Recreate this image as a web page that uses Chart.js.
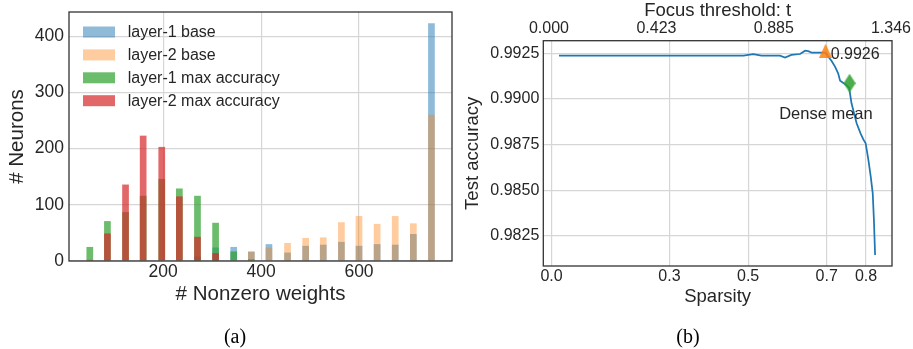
<!DOCTYPE html>
<html><head><meta charset="utf-8">
<script src="https://cdn.jsdelivr.net/npm/chart.js@4"></script>
<style>
html,body{margin:0;padding:0;background:#fff;width:913px;height:349px;overflow:hidden;}
#wa{position:absolute;left:0;top:0;width:460px;height:349px;}
#wb{position:absolute;left:460px;top:0;width:453px;height:349px;}
.cap{position:absolute;top:324px;line-height:24px;font-family:"Liberation Serif",serif;font-size:20px;color:#000;transform:translateX(-50%);}
</style></head><body>
<div id="wa"><canvas id="ca" width="460" height="349"></canvas></div>
<div id="wb"><canvas id="cb" width="453" height="349"></canvas></div>
<div class="cap" style="left:235px">(a)</div>
<div class="cap" style="left:688px">(b)</div>
<script>
// ---------- data: panel (a) ----------
const binCenters = [50, 86, 123, 159, 197, 233, 270, 307, 344, 380, 416, 454, 491, 527, 564, 600, 637, 674, 711, 748];
const layer1Base = [0, 0, 0, 0, 0, 0, 8, 24, 25, 17, 30, 15, 27, 29, 34, 27, 30, 29, 48, 423];
const layer2Base = [0, 0, 0, 0, 0, 0, 0, 0, 0, 16, 24, 32, 41, 42, 69, 80, 66, 80, 67, 260];
const layer1Max  = [25, 71, 87, 116, 146, 129, 116, 68, 17, 3, 0, 0, 0, 0, 0, 0, 0, 0, 0, 0];
const layer2Max  = [2, 49, 136, 223, 203, 115, 43, 14, 0, 0, 0, 0, 0, 0, 0, 0, 0, 0, 0, 0];
const seriesLabelsA = ['layer-1 base', 'layer-2 base', 'layer-1 max accuracy', 'layer-2 max accuracy'];
const xTicksA = [200, 400, 600];
const yTicksA = [0, 100, 200, 300, 400];

// ---------- data: panel (b) ----------
const sparsity = [0.019, 0.488, 0.513, 0.534, 0.581, 0.594, 0.610, 0.632, 0.645, 0.653,
                  0.662, 0.691, 0.697, 0.704, 0.712, 0.721, 0.729, 0.734, 0.746, 0.757,
                  0.763, 0.776, 0.786, 0.793, 0.799, 0.806, 0.812, 0.817, 0.820, 0.823];
const testAccuracy = [0.99237, 0.99237, 0.99246, 0.99237, 0.99237, 0.99226, 0.99241, 0.99246, 0.99264, 0.99262,
                      0.99253, 0.99253, 0.99253, 0.99231, 0.99209, 0.99177, 0.99140, 0.99100, 0.99082, 0.99061,
                      0.98976, 0.98866, 0.98811, 0.98778, 0.98757, 0.98665, 0.98573, 0.98482, 0.98336, 0.98144];
const maxAccPoint = [0.697, 0.99264];
const denseMeanPoint = [0.758, 0.99086];
const maxAccLabel = '0.9926';
const denseMeanLabel = 'Dense mean';
const xTicksB = [0.0, 0.3, 0.5, 0.7, 0.8];
const xTickLabelsB = ['0.0', '0.3', '0.5', '0.7', '0.8'];
const topTicksB = [0.000, 0.423, 0.885, 1.346];
const topTickLabelsB = ['0.000', '0.423', '0.885', '1.346'];
const yTicksB = [0.9825, 0.9850, 0.9875, 0.9900, 0.9925];

// ---------- style ----------
const TXT = '#262626';
const GRID = '#d6d6d6';
Chart.defaults.font.family = '"Liberation Sans", Arial, sans-serif';
Chart.defaults.color = TXT;

const colA = {
  'layer-1 base': 'rgba(31,119,180,0.5)',
  'layer-2 base': 'rgba(255,127,14,0.4)',
  'layer-1 max accuracy': 'rgba(44,160,44,0.7)',
  'layer-2 max accuracy': 'rgba(214,39,40,0.7)'
};
const seriesA = {
  'layer-1 base': layer1Base,
  'layer-2 base': layer2Base,
  'layer-1 max accuracy': layer1Max,
  'layer-2 max accuracy': layer2Max
};

function fixed(prop, val) {
  return function (s) {
    s[prop] = val;
    s.paddingLeft = 0; s.paddingRight = 0; s.paddingTop = 0; s.paddingBottom = 0;
  };
}

const framePlugin = {
  id: 'frame',
  afterDraw(chart) {
    const a = chart.chartArea, ctx = chart.ctx;
    ctx.save();
    ctx.strokeStyle = '#333333';
    ctx.lineWidth = 1.3;
    ctx.strokeRect(a.left, a.top, a.right - a.left, a.bottom - a.top);
    ctx.restore();
  }
};

const legendPluginA = {
  id: 'legendA',
  afterDraw(chart) {
    const a = chart.chartArea, ctx = chart.ctx;
    ctx.save();
    ctx.font = '16px "Liberation Sans", Arial, sans-serif';
    ctx.textBaseline = 'middle';
    ctx.textAlign = 'left';
    seriesLabelsA.forEach((lab, i) => {
      const cy = a.top + 20 + i * 22.9;
      ctx.fillStyle = colA[lab];
      ctx.fillRect(a.left + 14, cy - 5.5, 32, 11);
      ctx.fillStyle = TXT;
      ctx.fillText(lab, a.left + 58.7, cy + 0.5);
    });
    ctx.restore();
  }
};

// datasets in reverse so that the last-listed series draws on top
const dsA = seriesLabelsA.slice().reverse().map(lab => ({
  label: lab,
  data: binCenters.map((x, i) => ({ x: x, y: seriesA[lab][i] })),
  backgroundColor: colA[lab],
  borderWidth: 0
}));

new Chart(document.getElementById('ca'), {
  type: 'bar',
  data: { datasets: dsA },
  options: {
    responsive: false, animation: false, devicePixelRatio: 1,
    layout: { padding: { left: 0, right: 8, top: 12, bottom: 38 } },
    datasets: { bar: { grouped: false, barPercentage: 0.38, categoryPercentage: 1 } },
    scales: {
      x: {
        type: 'linear', offset: false, min: 7.5, max: 790,
        afterBuildTicks: s => { s.ticks = xTicksA.map(v => ({ value: v })); },
        afterFit: fixed('height', 50),
        ticks: { font: { size: 17.5 }, color: TXT, padding: 1, maxRotation: 0, callback: v => String(v) },
        grid: { color: GRID, lineWidth: 1.2, drawTicks: false, offset: false },
        border: { display: false },
        title: { display: true, text: '# Nonzero weights', font: { size: 20.5 }, color: TXT, padding: { top: 4, bottom: 4 } }
      },
      y: {
        type: 'linear', min: 0, max: 443,
        afterBuildTicks: s => { s.ticks = yTicksA.map(v => ({ value: v })); },
        afterFit: fixed('width', 69),
        ticks: { font: { size: 17.5 }, color: TXT, padding: 5, callback: v => String(v) },
        grid: { color: GRID, lineWidth: 1.2, drawTicks: false },
        border: { display: false },
        title: { display: true, text: '# Neurons', font: { size: 20.5 }, color: TXT, padding: { top: 5, bottom: 0 } }
      }
    },
    plugins: { legend: { display: false }, tooltip: { enabled: false } }
  },
  plugins: [framePlugin, legendPluginA]
});

// ---------- panel (b) ----------
function makeMarker(w, h, color, shape) {
  const c = document.createElement('canvas');
  c.width = w; c.height = h;
  const g = c.getContext('2d');
  g.fillStyle = color;
  g.beginPath();
  if (shape === 'tri') {
    g.moveTo(w / 2, 0); g.lineTo(w, h); g.lineTo(0, h);
  } else {
    g.moveTo(w / 2, 0); g.lineTo(w, h / 2); g.lineTo(w / 2, h); g.lineTo(0, h / 2);
  }
  g.closePath();
  g.fill();
  return c;
}
const triMarker = makeMarker(13, 14, 'rgba(255,127,14,0.85)', 'tri');
const diaMarker = makeMarker(12, 19, 'rgba(44,160,44,0.85)', 'dia');

const annotPluginB = {
  id: 'annotB',
  afterDatasetsDraw(chart) {
    const ctx = chart.ctx, x = chart.scales.x, y = chart.scales.y;
    ctx.save();
    ctx.fillStyle = TXT;
    ctx.textBaseline = 'middle';
    ctx.textAlign = 'left';
    ctx.font = '16px "Liberation Sans", Arial, sans-serif';
    ctx.fillText(maxAccLabel, x.getPixelForValue(0.710), y.getPixelForValue(0.99245));
    ctx.font = '16.5px "Liberation Sans", Arial, sans-serif';
    ctx.fillText(denseMeanLabel, x.getPixelForValue(0.579), y.getPixelForValue(0.98912));
    ctx.restore();
  }
};

new Chart(document.getElementById('cb'), {
  type: 'scatter',
  data: {
    datasets: [
      { label: 'max accuracy', data: [{ x: maxAccPoint[0], y: maxAccPoint[1] }], pointStyle: triMarker, pointRadius: 6, xAxisID: 'x', yAxisID: 'y' },
      { label: 'dense mean', data: [{ x: denseMeanPoint[0], y: denseMeanPoint[1] }], pointStyle: diaMarker, pointRadius: 6, xAxisID: 'x', yAxisID: 'y' },
      { label: 'test accuracy', data: sparsity.map((s, i) => ({ x: s, y: testAccuracy[i] })), showLine: true,
        borderColor: '#1f77b4', borderWidth: 1.75, pointRadius: 0, tension: 0, xAxisID: 'x', yAxisID: 'y' }
    ]
  },
  options: {
    responsive: false, animation: false, devicePixelRatio: 1,
    layout: { padding: { left: 0, right: 21, top: 0, bottom: 37.2 } },
    scales: {
      x: {
        type: 'linear', position: 'bottom', min: -0.021, max: 0.866,
        afterBuildTicks: s => { s.ticks = xTicksB.map(v => ({ value: v })); },
        afterFit: fixed('height', 45.8),
        ticks: { font: { size: 16 }, color: TXT, padding: 1, maxRotation: 0, callback: (v, i) => xTickLabelsB[i] },
        grid: { color: GRID, lineWidth: 1.2, drawTicks: false },
        border: { display: false },
        title: { display: true, text: 'Sparsity', font: { size: 18.5 }, color: TXT, padding: { top: 4, bottom: 4 } }
      },
      x2: {
        type: 'linear', position: 'top', min: -0.0224, max: 1.350,
        afterBuildTicks: s => { s.ticks = topTicksB.map(v => ({ value: v })); },
        afterFit: fixed('height', 40.7),
        ticks: { font: { size: 16 }, color: TXT, padding: 3, maxRotation: 0, callback: (v, i) => topTickLabelsB[i] },
        grid: { display: false, drawTicks: false },
        border: { display: false },
        title: { display: true, text: 'Focus threshold: t', font: { size: 18.5 }, color: TXT, padding: { top: 0, bottom: 0 } }
      },
      y: {
        type: 'linear', min: 0.98084, max: 0.99319,
        afterBuildTicks: s => { s.ticks = yTicksB.map(v => ({ value: v })); },
        afterFit: fixed('width', 83.3),
        ticks: { font: { size: 16 }, color: TXT, padding: 4, callback: v => v.toFixed(4) },
        grid: { color: GRID, lineWidth: 1.2, drawTicks: false },
        border: { display: false },
        title: { display: true, text: 'Test accuracy', font: { size: 18.5 }, color: TXT, padding: { top: 2, bottom: 0 } }
      }
    },
    plugins: { legend: { display: false }, tooltip: { enabled: false } }
  },
  plugins: [framePlugin, annotPluginB]
});
</script>
</body></html>
